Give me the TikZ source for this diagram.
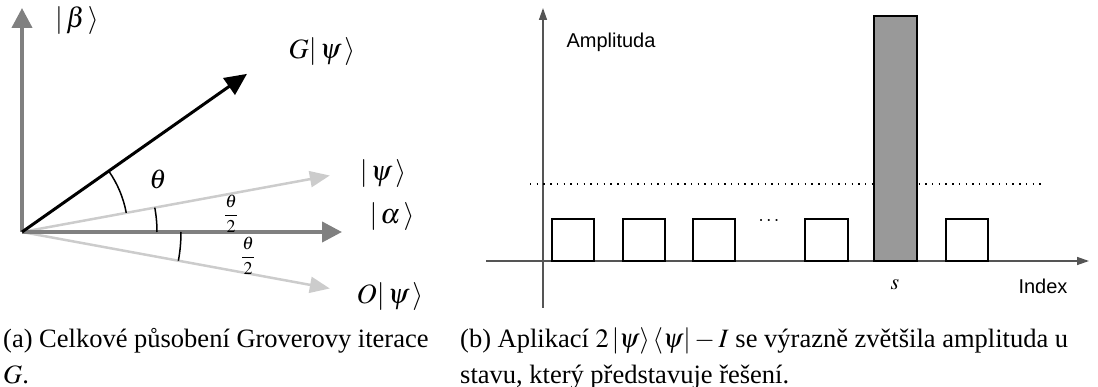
\documentclass[tikz,border=0pt]{standalone}
\usepackage{mathptmx}
\usepackage[no-math]{fontspec}
\setmainfont{Liberation Serif}
\newfontfamily\plotsans{Liberation Sans}
\usetikzlibrary{arrows.meta,calc}

\definecolor{axisgray}{HTML}{808080}
\definecolor{vecgray}{HTML}{CCCCCC}
\definecolor{plotaxis}{HTML}{555555}
\definecolor{barfill}{HTML}{999999}

\newcommand{\labfont}{\fontsize{28}{32}\selectfont}
\newcommand{\capfont}{\fontsize{26.5}{32}\selectfont}
% ket with a little air around its parts
\newcommand{\spket}[1]{|\mkern2mu #1\mkern2mu\rangle}

\begin{document}
\begin{tikzpicture}[x=1pt,y=-1pt,
  basisaxis/.style={draw=axisgray, line width=4pt, -{Triangle[length=20pt,width=20pt]}},
  statevec/.style={draw=vecgray, line width=2.5pt, -{Triangle[length=20pt,width=16pt]}},
  groverv/.style={draw=black, line width=3pt, -{Triangle[length=22pt,width=20pt]}},
  anglearc/.style={draw=black, line width=1.5pt},
  veclabel/.style={font=\labfont, inner sep=0},
  halflabel/.style={font=\fontsize{18}{20}\selectfont, inner sep=0},
  plotline/.style={draw=plotaxis, line width=1.4pt, -{Triangle[length=12pt,width=8pt]}},
  ampbox/.style={draw=black, line width=1.5pt},
  axistext/.style={font=\fontsize{20}{24}\selectfont\plotsans, inner sep=0},
  caption/.style={font=\capfont, anchor=base west, inner sep=0}
]
\useasboundingbox (0,0) rectangle (1098,387);

% ---------- (a) geometric view of one Grover iteration ----------
\coordinate (O) at (22,232);
\coordinate (betatip) at (22,8);
\coordinate (alphatip) at (342,232);
\coordinate (psitip) at ($(O)+(-10.4:313)$);
\coordinate (opsitip) at ($(O)+(10.4:313)$);
\coordinate (gpsitip) at ($(O)+(-35.1:275)$);

\draw[statevec] (O) -- (psitip);
\draw[statevec] (O) -- (opsitip);
\draw[basisaxis] (O) -- (betatip);
\draw[basisaxis] (O) -- (alphatip);
\draw[groverv] (O) -- (gpsitip);

% angle marks
\draw[anglearc] ($(O)+(-35.1:106)$) arc[start angle=-35.1, end angle=-10.4, radius=106];
\draw[anglearc] ($(O)+(-10.4:135)$) arc[start angle=-10.4, end angle=0, radius=135];
\draw[anglearc] ($(O)+(0:159)$) arc[start angle=0, end angle=10.4, radius=159];

\node[veclabel] (lbeta) at (77,21) {$\spket{\beta}$};
\node[veclabel] (lgpsi) at (322,52) {$G\spket{\psi}$};
\node[veclabel] (lpsi) at (383,174) {$\spket{\psi}$};
\node[veclabel] (lalpha) at (392,217) {$\spket{\alpha}$};
\node[veclabel] (lopsi) at (390,297) {$O\spket{\psi}$};
\node[font=\fontsize{27}{30}\selectfont, inner sep=0] (ltheta) at (158,179) {$\theta$};
\node[halflabel] (lhalf1) at (231,214) {$\displaystyle\frac{\theta}{2}$};
\node[halflabel] (lhalf2) at (248,256) {$\displaystyle\frac{\theta}{2}$};

% ---------- (b) amplitudes after inversion about the mean ----------
\coordinate (ybot) at (543,308);
\coordinate (ytop) at (543,8);
\coordinate (xleft) at (486,261);
\coordinate (xright) at (1089,261);
\draw[plotline] (ybot) -- (ytop);
\draw[plotline] (xleft) -- (xright);

\draw[line width=1.4pt, dash pattern=on 1.4pt off 5.3pt] (530,184) -- (1043,184);

\draw[ampbox] (552,219) rectangle (594,261);
\draw[ampbox] (623,219) rectangle (665,261);
\draw[ampbox] (693,219) rectangle (735,261);
\draw[ampbox] (805,219) rectangle (848,261);
\draw[ampbox, fill=barfill] (874,16) rectangle (917,261);
\draw[ampbox] (946,219) rectangle (988,261);

\node[font=\fontsize{20}{24}\selectfont, inner sep=0] (dots) at (769,221) {$\cdots$};
\node[axistext] (lamp) at (611,42) {Amplituda};
\node[axistext] (lidx) at (1043,286) {Index};
\node[font=\fontsize{22}{24}\selectfont, inner sep=0] (ls) at (895,285) {$s$};

% ---------- captions ----------
\node[caption] (capa1) at (3,348) {(a) Celkové působení Groverovy iterace};
\node[caption] (capa2) at (3,383) {$G$.};
\node[caption] (capb1) at (460,348) {(b) Aplikací $2\left|\psi\right\rangle\left\langle\psi\right| - I$ se výrazně zvětšila amplituda u};
\node[caption] (capb2) at (460,383) {stavu, který představuje řešení.};
\end{tikzpicture}
\end{document}
